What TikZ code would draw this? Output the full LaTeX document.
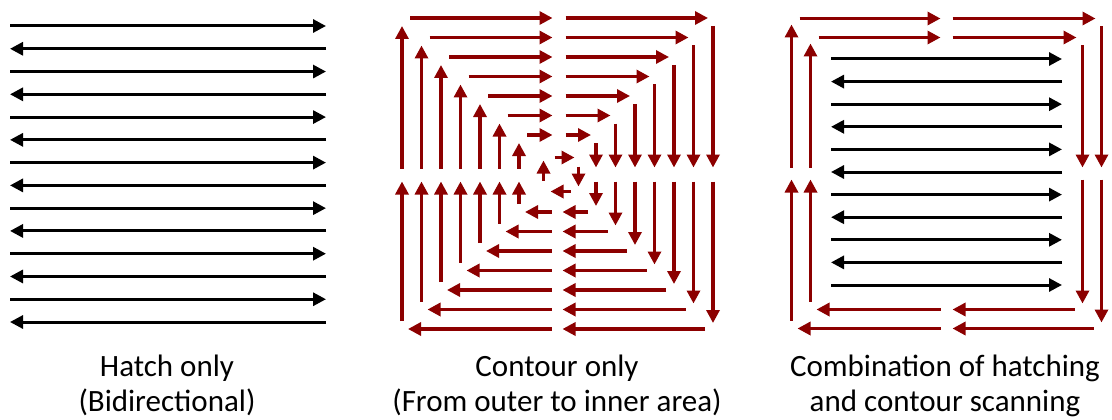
\documentclass[tikz,border=0pt]{standalone}
\usepackage{fontspec}
\setmainfont{Carlito}
\usetikzlibrary{arrows.meta, positioning, calc}
\definecolor{contourred}{RGB}{140,0,0}

\begin{document}
\begin{tikzpicture}[
    x=1pt, y=-1pt,
    font=\fontsize{31}{35}\selectfont,
    hatcharrow/.style={-{Triangle[length=13pt, width=13pt]}, line width=3pt, black},
    contourarrow/.style={-{Triangle[length=13pt, width=13pt]}, line width=3.2pt, draw=contourred, color=contourred},
    caption/.style={anchor=north, align=center, inner sep=0pt}
]
\useasboundingbox (0,0) rectangle (1112,420);

% Panel 1: Hatch only
\foreach \i in {0,...,13} {
  \pgfmathsetmacro\yy{26+22.77*\i}
  \ifodd\i
    \draw[hatcharrow] (326,\yy) -- (10,\yy);
  \else
    \draw[hatcharrow] (10,\yy) -- (326,\yy);
  \fi
}

% Panel 2: Contour only
\begin{scope}[shift={(557.5,173.5)}]
\foreach \k in {0,...,6} {
  \pgfmathsetmacro\h{155.5-19.5*\k}
  \draw[contourarrow] (-\h+8,-\h) -- (-5,-\h);
  \draw[contourarrow] (8,-\h) -- (\h-5,-\h);
  \draw[contourarrow] (\h,-\h+8) -- (\h,-6);
  \draw[contourarrow] (\h,8) -- (\h,\h-6);
  \draw[contourarrow] (\h-8,\h) -- (5,\h);
  \draw[contourarrow] (-6,\h) -- (-\h+6,\h);
  \draw[contourarrow] (-\h,\h-8) -- (-\h,8);
  \draw[contourarrow] (-\h,-5) -- (-\h,-\h+8);
}
% innermost turn
\draw[contourarrow] (-3,-16) -- (17,-16);
\draw[contourarrow] (21,-7) -- (21,13);
\draw[contourarrow] (13,18) -- (-7,18);
\draw[contourarrow] (-14,7) -- (-14,-13);
\end{scope}

% Panel 3: Combination of hatching and contour scanning
\begin{scope}[shift={(946.5,173.5)}]
\foreach \h in {155,136} {
  \draw[contourarrow] (-\h+8,-\h) -- (-6,-\h);
  \draw[contourarrow] (6,-\h) -- (\h-6,-\h);
  \draw[contourarrow] (\h,-\h+8) -- (\h,-6);
  \draw[contourarrow] (\h,6) -- (\h,\h-6);
  \draw[contourarrow] (\h-8,\h) -- (6,\h);
  \draw[contourarrow] (-6,\h) -- (-\h+6,\h);
  \draw[contourarrow] (-\h,\h-8) -- (-\h,6);
  \draw[contourarrow] (-\h,-6) -- (-\h,-\h+6);
}
\end{scope}
\foreach \i in {0,...,10} {
  \pgfmathsetmacro\yy{59+22.6*\i}
  \ifodd\i
    \draw[hatcharrow] (1062,\yy) -- (831,\yy);
  \else
    \draw[hatcharrow] (831,\yy) -- (1062,\yy);
  \fi
}

% Captions
\node[caption] (hatchcap) at (167,355) {Hatch only\\(Bidirectional)};
\node[caption] (contourcap) at (557,355) {Contour only\\(From outer to inner area)};
\node[caption] (combicap) at (945,355) {Combination of hatching\\and contour scanning};

\end{tikzpicture}
\end{document}
